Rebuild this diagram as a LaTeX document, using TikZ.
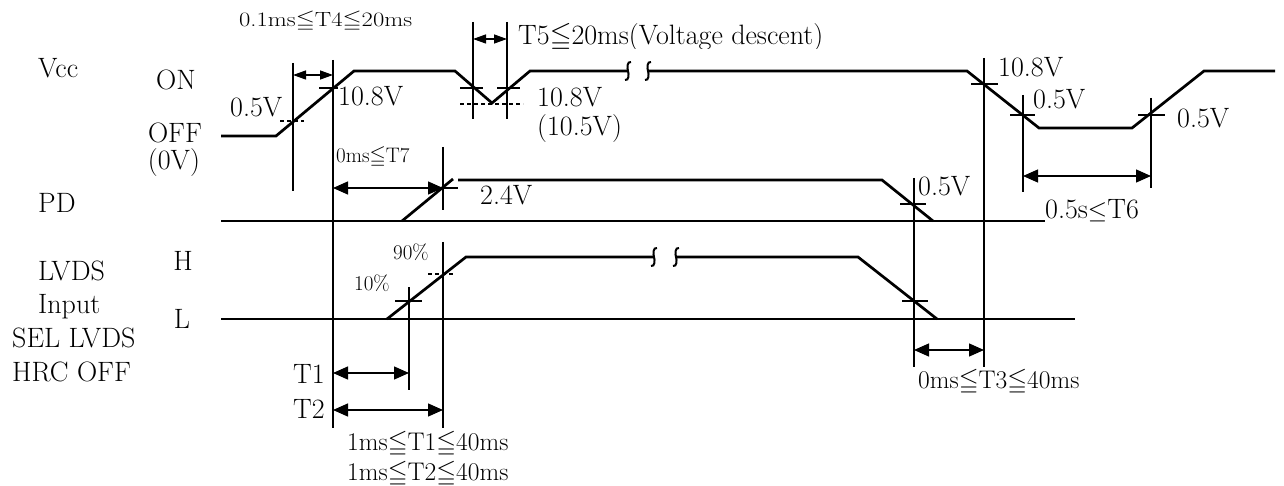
\documentclass[tikz,border=0pt]{standalone}
\usepackage{fontspec}
\usepackage{amssymb}
\usetikzlibrary{arrows.meta}
\tikzset{
 sig/.style={line width=2.7pt, line join=miter},
 thinln/.style={line width=1.3pt},
 tk/.style={line width=1.2pt},
 dtk/.style={line width=1.2pt, dash pattern=on 4pt off 3pt},
 dimS/.style={thinln, {Triangle[length=13pt,width=9pt]}-{Triangle[length=13pt,width=9pt]}},
 dimL/.style={thinln, {Triangle[length=15pt,width=13pt]}-{Triangle[length=15pt,width=13pt]}},
 lab/.style={inner sep=0pt, anchor=base west, font=\fontsize{28}{32}\selectfont},
 labc/.style={lab, anchor=base},
 labr/.style={lab, anchor=base east},
 midl/.style={inner sep=0pt, anchor=base west, font=\fontsize{25.5}{30}\selectfont},
 sml/.style={inner sep=0pt, anchor=base west, font=\fontsize{21}{24}\selectfont},
 brk/.style={line width=2pt}
}
\newcommand\brkmark[2]{\draw[brk] (#1+3,#2-9) .. controls (#1-1,#2-10) and (#1-1,#2-3) .. (#1,#2) .. controls (#1+1,#2+3) and (#1+1,#2+10) .. (#1-3,#2+9);}
\begin{document}
\begin{tikzpicture}[x=1pt,y=-1pt]
\fill[white] (0,0) rectangle (1284,486);
\useasboundingbox (0,0) rectangle (1284,486);

% ---------- left labels ----------
\node[lab] (vcc) at (38,78) {Vcc};
\node[labc] (on) at (176,90) {ON};
\node[labc] (off) at (175,143) {OFF};
\node[labc] (zv) at (174,170) {(0V)};
\node[lab] (pd) at (38,213) {PD};
\node[labc] (hh) at (183,270) {H};
\node[lab] (lvds) at (38,280) {LVDS};
\node[lab] (inp) at (38,313) {Input};
\node[labc] (ll) at (182,328) {L};
\node[lab] (sel) at (12,347) {SEL LVDS};
\node[lab] (hrc) at (12,381) {HRC OFF};

% ---------- Vcc signal ----------
\draw[sig] (221,136) -- (276,136) -- (354,71) -- (455,71) -- (492,103) -- (530,71) -- (628,71);
\brkmark{628}{71}
\brkmark{648}{71}
\draw[sig] (648,71) -- (967,71) -- (1039,128) -- (1132,128) -- (1204,71) -- (1275,71);

% ---------- PD signal ----------
\draw[sig] (221,221) -- (1045,221);
\draw[sig] (402,221) -- (453,179);
\draw[sig] (458,180) -- (882,180) -- (933,221);

% ---------- LVDS signal ----------
\draw[sig] (221,319) -- (1075,319);
\draw[sig] (387,319) -- (466,257) -- (654,257);
\brkmark{654}{257}
\brkmark{676}{257}
\draw[sig] (676,257) -- (858,257) -- (937,319);

% ---------- vertical reference lines ----------
\draw[thinln] (293,63) -- (293,191);
\draw[thinln] (333,60) -- (333,428);
\draw[thinln] (443,147) -- (443,210);
\draw[thinln] (443,242) -- (443,428);
\draw[thinln] (409,287) -- (409,390);
\draw[thinln] (473,22) -- (473,119);
\draw[thinln] (507,22) -- (507,119);
\draw[thinln] (914,178) -- (914,367);
\draw[thinln] (984,58) -- (984,367);
\draw[thinln] (1023,95) -- (1023,192);
\draw[thinln] (1151,98) -- (1151,188);

% ---------- ticks ----------
\draw[tk] (319,88) -- (338,88);
\draw[tk] (460,88) -- (483,88);
\draw[tk] (497,88) -- (520,88);
\draw[tk] (395,301) -- (422,301);
\draw[tk] (900,204) -- (926,204);
\draw[tk] (902,301) -- (928,301);
\draw[tk] (971,84) -- (998,84);
\draw[tk] (1010,115) -- (1035,115);
\draw[tk] (1138,115) -- (1165,115);
\draw[tk] (433,188) -- (458,188);
\draw[dtk] (280,121) -- (304,121);
\draw[dtk] (460,104) -- (523,104);
\draw[dtk] (428,274) -- (454,274);

% ---------- dimension arrows ----------
\coordinate (t4l) at (293,75);  \coordinate (t4r) at (333,75);
\coordinate (t5l) at (473,39);  \coordinate (t5r) at (507,39);
\coordinate (t7l) at (333,188); \coordinate (t7r) at (443,188);
\coordinate (t6l) at (1023,176);\coordinate (t6r) at (1151,176);
\coordinate (t1l) at (333,373); \coordinate (t1r) at (409,373);
\coordinate (t2l) at (333,410); \coordinate (t2r) at (443,410);
\coordinate (t3l) at (914,350); \coordinate (t3r) at (984,350);
\draw[dimS] (t4l) -- (t4r);
\draw[dimS] (t5l) -- (t5r);
\draw[dimL] (t7l) -- (t7r);
\draw[dimL] (t6l) -- (t6r);
\draw[dimL] (t1l) -- (t1r);
\draw[dimL] (t2l) -- (t2r);
\draw[dimL] (t3l) -- (t3r);

% ---------- value labels ----------
\node[inner sep=0pt, anchor=base west] (t4txt) at (239,27) {\scalebox{1.2}[1]{\fontsize{20.5}{24}\selectfont 0.1ms$\leqq$T4$\leqq$20ms}};
\begin{scope}
\clip (500,0) rectangle (1100,48.5);
\node[lab] (t5txt) at (518,45) {T5$\leqq$20ms(Voltage descent)};
\end{scope}
\node[lab] (v05a) at (230,117) {0.5V};
\node[lab] (v108a) at (338,106) {10.8V};
\node[lab] (v108b) at (537,107) {10.8V};
\node[lab] (v105) at (537,136) {(10.5V)};
\node[sml] (t7txt) at (336,163) {0ms$\leqq$T7};
\node[lab] (v24) at (480,205) {2.4V};
\node[lab] (v05b) at (918,196) {0.5V};
\node[lab] (v108c) at (998,77) {10.8V};
\node[lab] (v05c) at (1033,109) {0.5V};
\node[lab] (v05d) at (1177,128) {0.5V};
\begin{scope}
\clip (1040,190) rectangle (1180,223.5);
\node[lab] (t6txt) at (1045,219) {0.5s$\leq$T6};
\end{scope}
\node[sml] (p90) at (393,260) {90\%};
\node[sml] (p10) at (354,290) {10\%};
\node[labr] (t1txt) at (325,383) {T1};
\node[labr] (t2txt) at (325,418) {T2};
\node[midl] (t1rng) at (347,450) {1ms$\leqq$T1$\leqq$40ms};
\node[midl] (t2rng) at (347,480) {1ms$\leqq$T2$\leqq$40ms};
\node[midl] (t3rng) at (918,388) {0ms$\leqq$T3$\leqq$40ms};
\end{tikzpicture}
\end{document}
